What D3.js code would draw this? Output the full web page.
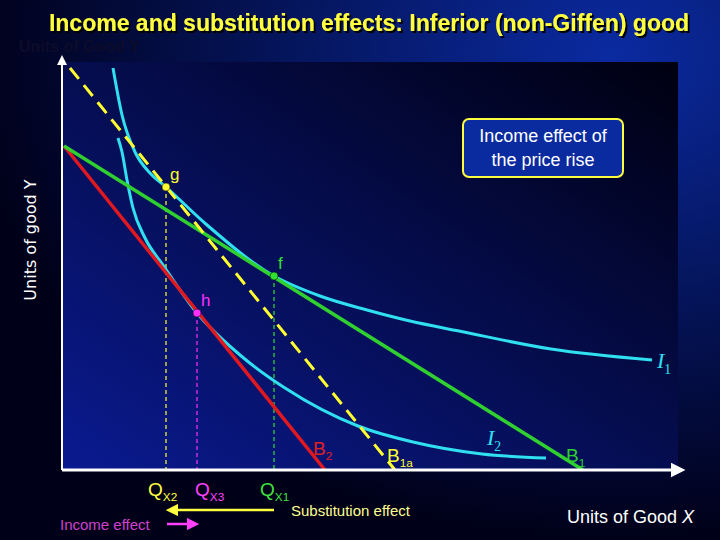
<!DOCTYPE html>
<html><head><meta charset="utf-8">
<script src="https://cdn.jsdelivr.net/npm/d3@7/dist/d3.min.js"></script>
<style>body{margin:0;background:#000}svg{display:block}</style></head>
<body><svg id="c" width="720" height="540"></svg>
<script>
// data in chart units (x: 0..620, y: 0..408)
const budgetB1 = [[2,324],[521,0]];
const budgetB2 = [[2,324],[263,0]];
const budgetB1a = [[8,402],[333,0]];
const curveI1 = [[51,402],[60,355],[73,318],[88,297],[104,283],[145,245],[212,194],[258,174],[305,160],[348,149],[397,139],[489,121],[590,110]];
const curveI2 = [[56,332],[60,318],[65,290],[71,262],[83,232],[101,205],[135,157],[178,115],[223,82],[296,44],[351,28],[420,16],[484,12]];
const points = [{n:"g",x:104,y:283,c:"#ffff30"},{n:"f",x:212,y:194,c:"#30e030"},{n:"h",x:135,y:157,c:"#ff30ff"}];
const qLabels = [{t:"Q",s:"X2",x:104,c:"#ffff40"},{t:"Q",s:"X3",x:135,c:"#ff40ff"},{t:"Q",s:"X1",x:212,c:"#40e040"}];

const svg = d3.select("#c");
const defs = svg.append("defs");
const bg = defs.append("radialGradient").attr("id","bg").attr("cx","85%").attr("cy","10%").attr("r","90%");
bg.append("stop").attr("offset","0").attr("stop-color","#0a2aa0");
bg.append("stop").attr("offset","1").attr("stop-color","#000018");
const pg = defs.append("linearGradient").attr("id","pg").attr("x1","1").attr("y1","0").attr("x2","0").attr("y2","1");
pg.append("stop").attr("offset","0").attr("stop-color","#000010");
pg.append("stop").attr("offset","1").attr("stop-color","#0a1a90");
const sh = defs.append("filter").attr("id","sh");
sh.append("feDropShadow").attr("dx",2).attr("dy",2).attr("stdDeviation",0.5).attr("flood-color","#000");
function marker(id,col){defs.append("marker").attr("id",id).attr("viewBox","0 0 10 10").attr("refX",5).attr("refY",5)
  .attr("markerWidth",5).attr("markerHeight",5).attr("orient","auto-start-reverse")
  .append("path").attr("d","M0,0L10,5L0,10z").attr("fill",col);}
marker("aw","#fff");marker("ay","#ffff40");marker("am","#ff40ff");

svg.append("rect").attr("width",720).attr("height",540).attr("fill","url(#bg)");
const x = d3.scaleLinear().domain([0,620]).range([62,682]);
const y = d3.scaleLinear().domain([0,408]).range([470,62]);
svg.append("rect").attr("x",x(0)).attr("y",y(408)).attr("width",x(616)-x(0)).attr("height",y(0)-y(408)).attr("fill","url(#pg)");

svg.append("text").attr("x",19).attr("y",52).text("Units of Good Y").attr("font-family","Liberation Sans, Arial").attr("font-weight","bold").attr("font-size",16).attr("fill","#0c0c2a");
svg.append("text").attr("x",369).attr("y",31).attr("text-anchor","middle").text("Income and substitution effects: Inferior (non-Giffen) good")
  .attr("font-family","Liberation Sans Narrow, Liberation Sans, Arial").attr("font-weight","bold").attr("font-size",23).attr("fill","#ffff40").attr("filter","url(#sh)");
svg.append("text").attr("transform","translate(36,240) rotate(-90)").attr("text-anchor","middle").text("Units of good Y")
  .attr("font-family","DejaVu Sans").attr("font-size",16).attr("fill","#fff");

const line = d3.line().x(d=>x(d[0])).y(d=>y(d[1]));
const cl = d3.line().x(d=>x(d[0])).y(d=>y(d[1])).curve(d3.curveMonotoneX);

points.forEach(p=>svg.append("line").attr("x1",x(p.x)).attr("x2",x(p.x)).attr("y1",y(p.y)).attr("y2",y(0))
  .attr("stroke",p.c).attr("stroke-width",1.5).attr("stroke-dasharray","4,3").attr("opacity",0.8));

svg.append("path").attr("d",cl(curveI1)).attr("fill","none").attr("stroke","#30e0f0").attr("stroke-width",3);
svg.append("path").attr("d",cl(curveI2)).attr("fill","none").attr("stroke","#30e0f0").attr("stroke-width",3);
svg.append("path").attr("d",line(budgetB2)).attr("stroke","#e01820").attr("stroke-width",3.5);
svg.append("path").attr("d",line(budgetB1)).attr("stroke","#30d030").attr("stroke-width",3.5);
svg.append("path").attr("d",line(budgetB1a)).attr("stroke","#ffff30").attr("stroke-width",3).attr("stroke-dasharray","14,8");

svg.append("line").attr("x1",x(0)).attr("y1",y(0)).attr("x2",x(0)).attr("y2",y(408)-2).attr("stroke","#fff").attr("stroke-width",2).attr("marker-end","url(#aw)");
svg.append("line").attr("x1",x(0)).attr("y1",y(0)).attr("x2",x(616)).attr("y2",y(0)).attr("stroke","#fff").attr("stroke-width",3).attr("marker-end","url(#aw)");

points.forEach(p=>{
  svg.append("circle").attr("cx",x(p.x)).attr("cy",y(p.y)).attr("r",4).attr("fill",p.c).attr("stroke","#000").attr("stroke-width",0.5);
  svg.append("text").attr("x",x(p.x)+4).attr("y",y(p.y)-7).text(p.n).attr("font-family","Liberation Sans, Arial").attr("font-size",17).attr("fill",p.c);
});

function sub(t,s,xx,yy,c,fs,fam,it){
  const tx=svg.append("text").attr("x",xx).attr("y",yy).attr("fill",c).attr("font-family",fam||"Liberation Sans, Arial").attr("font-size",fs);
  tx.append("tspan").text(t).attr("font-style",it?"italic":"normal");
  tx.append("tspan").text(s).attr("font-size",fs*0.62).attr("dy",fs*0.25);
}
sub("B","2",313,455,"#e02020",19);
sub("B","1a",387,462,"#ffff30",19);
sub("B","1",566,462,"#30d030",19);
sub("I","1",657,368,"#30e0f0",22,"Liberation Serif",true);
sub("I","2",487,445,"#30e0f0",22,"Liberation Serif",true);
qLabels.forEach((q,i)=>sub(q.t,q.s,x(q.x)-(i==2?14:(i==0?18:2)),496,q.c,19));

svg.append("line").attr("x1",x(212)).attr("x2",x(104)+6).attr("y1",510).attr("y2",510).attr("stroke","#ffff40").attr("stroke-width",2.5).attr("marker-end","url(#ay)");
svg.append("text").attr("x",291).attr("y",516).text("Substitution effect").attr("font-family","Liberation Sans, Arial").attr("font-size",15).attr("fill","#ffff90");
svg.append("line").attr("x1",x(104)+1).attr("x2",x(135)-4).attr("y1",524).attr("y2",524).attr("stroke","#ff40ff").attr("stroke-width",2.5).attr("marker-end","url(#am)");
svg.append("text").attr("x",60).attr("y",530).text("Income effect").attr("font-family","Liberation Sans, Arial").attr("font-size",15).attr("fill","#d040d0");
const ux=svg.append("text").attr("x",567).attr("y",523).attr("font-family","Liberation Sans, Arial").attr("font-size",18).attr("fill","#fff");
ux.append("tspan").text("Units of Good ");ux.append("tspan").text("X").attr("font-style","italic");

svg.append("rect").attr("x",463).attr("y",119).attr("width",160).attr("height",58).attr("rx",6).attr("fill","#0a2aa0").attr("stroke","#ffff40").attr("stroke-width",2);
[["Income effect of",142],["the price rise",166]].forEach(t=>svg.append("text").attr("x",543).attr("y",t[1]).attr("text-anchor","middle").text(t[0])
  .attr("font-family","Liberation Sans, Arial").attr("font-size",18).attr("fill","#fff"));
</script></body></html>
